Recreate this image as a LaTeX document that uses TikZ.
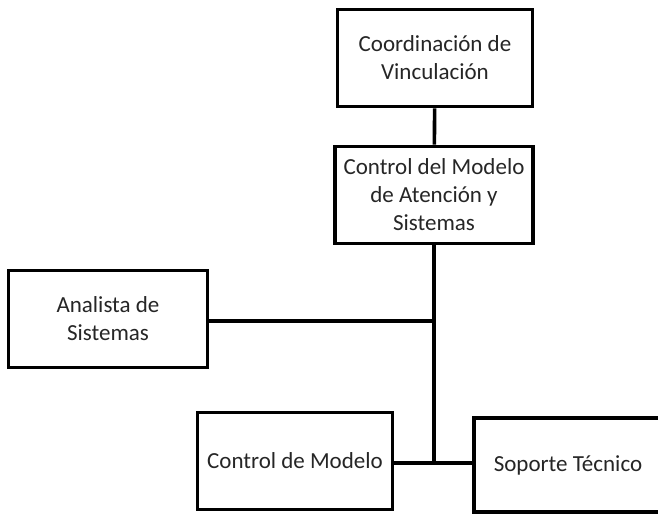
\documentclass[tikz,border=0pt]{standalone}
\usepackage{fontspec}
\setmainfont{Carlito}
\usetikzlibrary{positioning,calc}

\tikzset{
    cargo/.style={draw=black, line width=3.6pt, fill=white, align=center,
        text=black!85, minimum width=195pt, minimum height=97pt, inner sep=2pt,
        font=\fontsize{23}{28}\selectfont},
    linea/.style={line width=3.6pt}
}

\begin{document}
\begin{tikzpicture}[x=1pt, y=-1pt]
    \useasboundingbox (0,0) rectangle (658,515);

    % Coordinacion y control
    \node[cargo] (coord) at (435, 58) {Coordinación de\\Vinculación};
    \node[cargo, minimum width=198pt] (ctrlsis) at (434, 195) {Control del Modelo\\de Atención y\\Sistemas};

    % Analista
    \node[cargo, minimum width=199pt] (analista) at (108, 319) {Analista de\\Sistemas};

    % Nivel inferior
    \node[cargo] (ctrlmod) at (295, 461) {Control de Modelo};
    \node[cargo, anchor=west, inner xsep=20pt, minimum height=94pt] (soporte) at (472, 465)
        {\makebox[180pt][l]{Soporte Técnico}};

    % Conectores
    \coordinate (nudoA) at (ctrlsis.south |- 0,321);
    \coordinate (nudoB) at (ctrlsis.south |- 0,463);
    \draw[linea] (coord) -- (ctrlsis);
    \draw[linea] (ctrlsis) -- (nudoB);
    \draw[linea] (analista.east |- nudoA) -- (nudoA);
    \draw[linea] (ctrlmod.east |- nudoB) -- (soporte.west |- nudoB);
\end{tikzpicture}
\end{document}
